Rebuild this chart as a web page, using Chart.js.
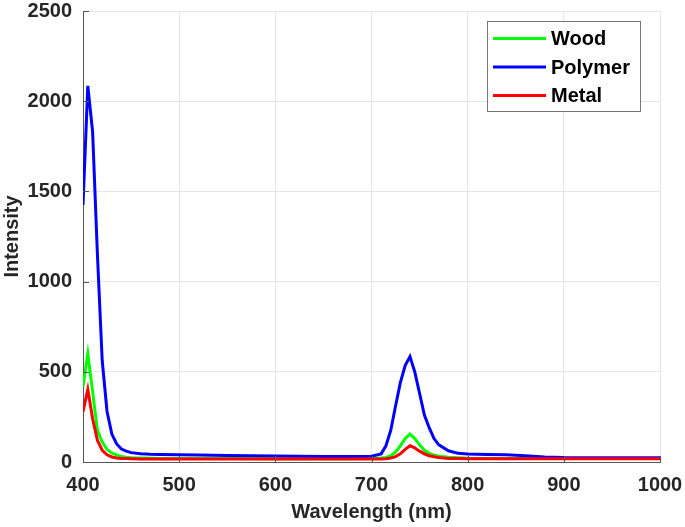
<!DOCTYPE html>
<html>
<head>
<meta charset="utf-8">
<script src="https://cdn.jsdelivr.net/npm/chart.js@4"></script>
<style>
  html, body { margin: 0; padding: 0; background: #fff; }
  #wrap { width: 685px; height: 527px; }
</style>
</head>
<body>
<div id="wrap"><canvas id="c" width="685" height="527"></canvas></div>
<script>
const wavelengths = [400,405,410,415,420,425,430,435,440,445,450,460,470,480,500,520,550,600,650,680,700,710,715,720,725,730,735,740,745,750,755,760,765,770,780,790,800,820,840,860,880,900,950,1000];
const wood    = [417,600,390,175,110,70,50,38,30,26,24,22,21,20,20,19,19,18,18,18,20,22,25,35,55,90,130,155,130,95,65,48,38,32,26,23,21,20,20,19,19,19,19,19];
const polymer = [1425,2085,1830,1150,560,280,155,100,72,60,52,46,43,42,40,39,36,33,30,30,32,45,90,175,310,440,535,584,500,380,260,190,130,95,62,48,44,42,40,35,28,25,24,24];
const metal   = [279,403,240,120,65,40,28,22,20,19,18,17,16,16,16,16,16,16,16,16,16,17,18,22,30,45,70,90,78,60,45,35,29,25,20,19,18,18,18,18,18,18,18,18];
const seriesNames = ['Wood','Polymer','Metal'];
const seriesColors = ['#00ff00','#0000ff','#ff0000'];
const xTicks = [400,500,600,700,800,900,1000];
const yTicks = [0,500,1000,1500,2000,2500];

const seriesValues = [wood, polymer, metal];
const datasets = seriesValues.map((vals, i) => ({
  label: seriesNames[i],
  data: wavelengths.map((x, j) => ({x: x, y: vals[j]})),
  borderColor: seriesColors[i],
  backgroundColor: seriesColors[i],
  borderWidth: 3,
  pointRadius: 0,
  tension: 0,
  fill: false,
  order: seriesNames.length - i
}));

const FONT = 'Liberation Sans, Arial, sans-serif';
const AXIS = '#555555';
const TEXT = '#262626';

const innerTicks = {
  id: 'innerTicks',
  afterDatasetsDraw(chart) {
    const ctx = chart.ctx, a = chart.chartArea;
    const xs = chart.scales.x, ys = chart.scales.y;
    ctx.save();
    ctx.strokeStyle = AXIS;
    ctx.lineWidth = 1;
    ctx.beginPath();
    yTicks.forEach(v => {
      const p = Math.round(ys.getPixelForValue(v)) + 0.5;
      ctx.moveTo(a.left, p); ctx.lineTo(a.left + 6, p);
    });
    xTicks.forEach(v => {
      const p = Math.round(xs.getPixelForValue(v)) + 0.5;
      ctx.moveTo(p, a.bottom); ctx.lineTo(p, a.bottom - 6);
    });
    ctx.stroke();
    ctx.restore();
  }
};

const boxLegend = {
  id: 'boxLegend',
  afterDraw(chart) {
    const ctx = chart.ctx;
    const bx = 487.5, by = 21.5, bw = 153, bh = 90;
    ctx.save();
    ctx.fillStyle = '#ffffff';
    ctx.fillRect(bx, by, bw, bh);
    ctx.strokeStyle = '#777777';
    ctx.lineWidth = 1;
    ctx.strokeRect(bx, by, bw, bh);
    ctx.font = 'bold 20px ' + FONT;
    ctx.textBaseline = 'middle';
    ctx.textAlign = 'left';
    chart.data.datasets.forEach((ds, i) => {
      const y = 38.5 + i * 28.5;
      ctx.strokeStyle = ds.borderColor;
      ctx.lineWidth = 3;
      ctx.beginPath();
      ctx.moveTo(493, y); ctx.lineTo(546, y);
      ctx.stroke();
      ctx.fillStyle = '#000000';
      ctx.fillText(ds.label, 551, y + 1);
    });
    ctx.restore();
  }
};

new Chart(document.getElementById('c'), {
  type: 'line',
  data: { datasets: datasets },
  options: {
    responsive: false,
    animation: false,
    devicePixelRatio: 1,
    layout: { padding: 0 },
    plugins: { legend: { display: false }, tooltip: { enabled: false } },
    scales: {
      x: {
        type: 'linear',
        min: 400, max: 1000,
        afterBuildTicks: s => { s.ticks = xTicks.map(v => ({value: v})); },
        afterFit: s => { s.height = 65; s.paddingLeft = 0; s.paddingRight = 25; },
        ticks: { color: TEXT, font: { family: FONT, size: 20, weight: 'bold' }, padding: 11, maxRotation: 0, callback: v => String(v) },
        grid: { color: '#e6e6e6', drawTicks: false },
        border: { display: true, color: AXIS, width: 1 },
        title: { display: true, text: 'Wavelength (nm)', color: TEXT, font: { family: FONT, size: 20, weight: 'bold' }, padding: { top: 0, bottom: 3 } }
      },
      y: {
        type: 'linear',
        min: 0, max: 2500,
        afterBuildTicks: s => { s.ticks = yTicks.map(v => ({value: v})); },
        afterFit: s => { s.width = 83; s.paddingTop = 11; s.paddingBottom = 0; },
        ticks: { color: TEXT, font: { family: FONT, size: 20, weight: 'bold' }, padding: 11, callback: v => String(v) },
        grid: { color: '#e6e6e6', drawTicks: false },
        border: { display: true, color: AXIS, width: 1 },
        title: { display: true, text: 'Intensity', color: TEXT, font: { family: FONT, size: 20, weight: 'bold' }, padding: { top: 0, bottom: 0 } }
      }
    }
  },
  plugins: [innerTicks, boxLegend]
});
</script>
</body>
</html>
